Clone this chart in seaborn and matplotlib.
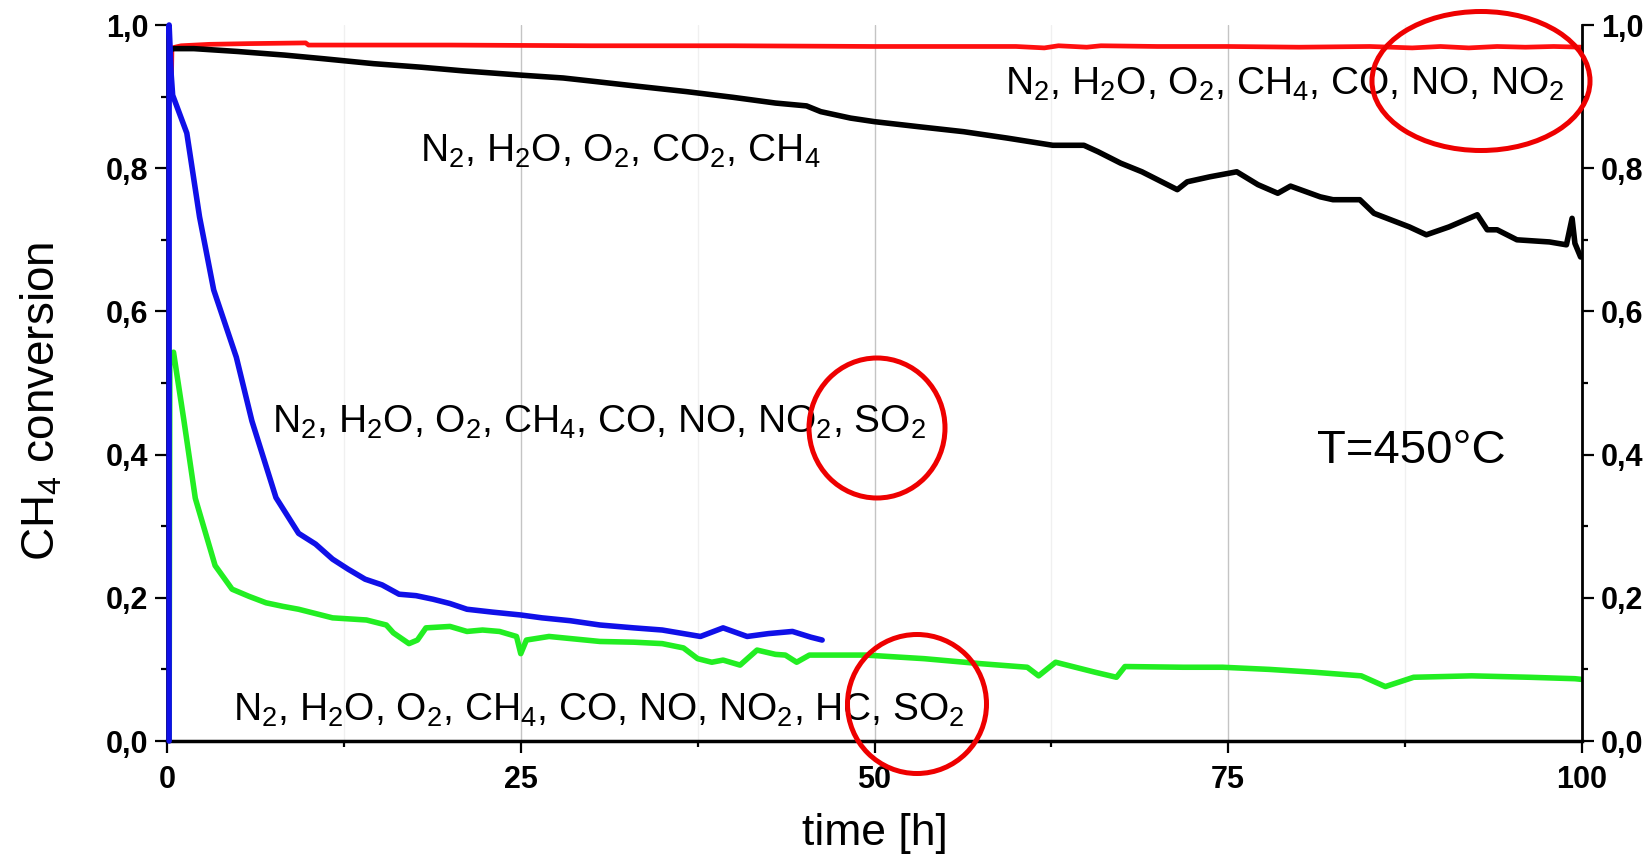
import matplotlib
matplotlib.use("Agg")
import matplotlib.pyplot as plt
from matplotlib.patches import Ellipse
from matplotlib.ticker import MultipleLocator, FuncFormatter
import seaborn as sns
import pandas as pd

# ---------------- data ----------------
black_t = [0.3, 0.5, 1.9, 5, 8.3, 11, 14.6, 18, 20.9, 25, 28, 30.3, 33, 36.7, 40, 43, 45.2, 46.2,
           48.3, 50, 53.1, 56.3, 59.4, 62.6, 64.8, 65.8, 67.4, 68.9, 70.5, 71.4, 72.1, 73.7,
           75.6, 77.1, 78.5, 79.4, 81.5, 82.4, 84.3, 85.3, 87.8, 89.0, 90.6, 92.6, 93.3,
           94.0, 95.4, 97.7, 98.9, 99.3, 99.5, 99.9]
black_y = [0.966, 0.967, 0.967, 0.963, 0.958, 0.953, 0.946, 0.941, 0.936, 0.930, 0.926, 0.921,
           0.915, 0.907, 0.899, 0.891, 0.887, 0.879, 0.870, 0.865, 0.858, 0.851, 0.842, 0.832,
           0.832, 0.823, 0.807, 0.795, 0.779, 0.770, 0.781, 0.788, 0.795, 0.777, 0.765, 0.775,
           0.760, 0.756, 0.756, 0.737, 0.718, 0.707, 0.718, 0.735, 0.714, 0.714, 0.700, 0.697,
           0.693, 0.730, 0.695, 0.676]

red_t = [0.3, 0.35, 1, 3, 5.8, 9.8, 10, 20, 30, 40, 50, 55, 60, 62, 63, 65, 66, 70, 75,
         80, 85, 88, 90, 92, 94, 96, 98, 100]
red_y = [0.905, 0.968, 0.971, 0.973, 0.974, 0.975, 0.972, 0.972, 0.971, 0.971, 0.970, 0.970,
         0.970, 0.968, 0.971, 0.969, 0.971, 0.970, 0.970, 0.969, 0.970, 0.968, 0.970, 0.968,
         0.970, 0.969, 0.970, 0.969]

blue_t = [0.15, 0.15, 0.3, 0.4, 1.4, 2.3, 3.3, 4.9, 6.0, 7.7, 9.3, 10.5, 11.7, 12.8, 14.0,
          15.2, 16.4, 17.6, 18.8, 20.0, 21.2, 23.0, 25.0, 26.5, 28.5, 30.6, 33.0, 35.0,
          37.7, 39.3, 41.0, 42.5, 44.2, 45.5, 46.3]
blue_y = [0.0, 1.0, 0.93, 0.902, 0.849, 0.732, 0.630, 0.536, 0.447, 0.340, 0.290, 0.275,
          0.254, 0.240, 0.226, 0.218, 0.205, 0.203, 0.198, 0.192, 0.184, 0.180, 0.176, 0.172,
          0.168, 0.162, 0.158, 0.155, 0.146, 0.158, 0.146, 0.150, 0.153, 0.145, 0.141]

green_t = [0.15, 0.2, 0.46, 1.2, 2.0, 3.4, 4.6, 5.8, 7.0, 8.2, 9.3, 11.7, 14.1, 15.5, 16.0, 17.1,
           17.7, 18.3, 20.0, 21.2, 22.3, 23.5, 24.7, 25.0, 25.4, 27.0, 30.6, 33.0, 35.0,
           36.5, 37.5, 38.5, 39.3, 40.5, 41.7, 43.0, 43.7, 44.5, 45.4, 49.4, 53.5, 57.5,
           60.8, 61.6, 62.8, 65.6, 67.1, 67.7, 71.8, 74.6, 77.9, 81.1, 84.4, 86.1, 88.1,
           92.2, 96.3, 99.5, 100]
green_y = [0.0, 0.54, 0.543, 0.447, 0.339, 0.245, 0.212, 0.202, 0.193, 0.188, 0.184, 0.172, 0.169,
           0.162, 0.151, 0.136, 0.141, 0.158, 0.160, 0.153, 0.155, 0.153, 0.146, 0.122, 0.141,
           0.146, 0.139, 0.138, 0.136, 0.130, 0.115, 0.110, 0.113, 0.106, 0.127, 0.121, 0.120,
           0.110, 0.120, 0.120, 0.115, 0.108, 0.103, 0.091, 0.110, 0.096, 0.089, 0.104, 0.103,
           0.103, 0.100, 0.096, 0.091, 0.076, 0.089, 0.091, 0.089, 0.087, 0.086]

x_ticks = [0, 25, 50, 75, 100]
y_ticks = [0.0, 0.2, 0.4, 0.6, 0.8, 1.0]

label_A = r"N$_2$, H$_2$O, O$_2$, CO$_2$, CH$_4$"
label_B = r"N$_2$, H$_2$O, O$_2$, CH$_4$, CO, NO, NO$_2$"
label_C = r"N$_2$, H$_2$O, O$_2$, CH$_4$, CO, NO, NO$_2$, SO$_2$"
label_D = r"N$_2$, H$_2$O, O$_2$, CH$_4$, CO, NO, NO$_2$, HC, SO$_2$"
label_T = "T=450°C"

# ---------------- styling ----------------
sns.set_theme(style="white")
plt.rcParams["font.family"] = ["Liberation Sans", "DejaVu Sans"]
plt.rcParams["mathtext.default"] = "regular"
plt.rcParams["text.color"] = "black"
plt.rcParams["axes.labelcolor"] = "black"
plt.rcParams["xtick.color"] = "black"
plt.rcParams["ytick.color"] = "black"

fig = plt.figure(figsize=(16.48, 8.56), dpi=100)
ax = fig.add_axes([167 / 1648, 1 - 741 / 856, 1415 / 1648, 716 / 856])

def frame(t, y):
    return pd.DataFrame({"time": t, "conv": y})

lw = 4.0
sns.lineplot(data=frame(red_t, red_y), x="time", y="conv", sort=False, estimator=None,
             color="#ff1010", lw=3.4, ax=ax)
sns.lineplot(data=frame(black_t, black_y), x="time", y="conv", sort=False, estimator=None,
             color="#000000", lw=lw, ax=ax)
sns.lineplot(data=frame(green_t, green_y), x="time", y="conv", sort=False, estimator=None,
             color="#22ee22", lw=lw, ax=ax)
sns.lineplot(data=frame(blue_t, blue_y), x="time", y="conv", sort=False, estimator=None,
             color="#1010e8", lw=lw, ax=ax, zorder=5)
ax.lines[-1].set_clip_on(False)

ax.set_xlim(0, 100)
ax.set_ylim(0, 1.0)
ax.set_xticks(x_ticks)
ax.set_yticks(y_ticks)
ax.xaxis.set_minor_locator(MultipleLocator(12.5))
ax.yaxis.set_minor_locator(MultipleLocator(0.1))
ax.xaxis.set_major_formatter(FuncFormatter(lambda v, p: f"{v:g}"))
ax.yaxis.set_major_formatter(FuncFormatter(lambda v, p: f"{v:.1f}".replace(".", ",")))

ax.grid(True, axis="x", which="major", color="#c4c4c4", lw=1.0)
ax.grid(True, axis="x", which="minor", color="#f0f0f0", lw=1.0)
ax.grid(False, axis="y")
ax.set_axisbelow(True)

for side in ["left", "bottom", "right"]:
    ax.spines[side].set_visible(True)
    ax.spines[side].set_color("black")
    ax.spines[side].set_linewidth(2.0)
ax.spines["top"].set_visible(False)
ax.spines["bottom"].set_linewidth(2.5)

ax.tick_params(axis="both", which="major", direction="out", length=8.5, width=1.6,
               labelsize=22, pad=5, colors="black")
ax.tick_params(axis="x", which="major", pad=9)
ax.tick_params(axis="both", which="minor", direction="out", length=4.5, width=1.6)
ax.tick_params(axis="y", which="both", left=True, right=True, labelleft=True, labelright=True)
ax.tick_params(axis="x", which="both", bottom=True, top=False)
for t in ax.xaxis.get_major_ticks():
    t.label1.set_fontweight("bold")
for t in ax.yaxis.get_major_ticks():
    t.label1.set_fontweight("bold")
    t.label2.set_fontweight("bold")

ax.set_xlabel("time [h]", fontsize=32, va="baseline")
ax.xaxis.set_label_coords(0.5, (741 - 845) / 716)
ax.set_ylabel(r"CH$_4$ conversion", fontsize=33, va="center")
ax.yaxis.set_label_coords((42 - 167) / 1415, 0.475)

fs = 28
ax.text(17.9, 0.809, label_A, fontsize=fs, va="baseline", ha="left")
ax.text(59.2, 0.902, label_B, fontsize=fs, va="baseline", ha="left")
ax.text(7.4, 0.430, label_C, fontsize=fs, va="baseline", ha="left")
ax.text(4.66, 0.029, label_D, fontsize=fs, va="baseline", ha="left")
ax.text(81.3, 0.388, label_T, fontsize=34, va="baseline", ha="left")

# red highlight ellipses (figure-fraction coordinates, may extend past the axes)
for (cx, cy, w, h) in [(1481, 81, 218, 139), (877, 428, 136, 140), (917, 704, 139, 139)]:
    e = Ellipse((cx / 1648, 1 - cy / 856), w / 1648, h / 856, transform=fig.transFigure,
                fill=False, edgecolor="#ee0000", lw=3.6, zorder=10, clip_on=False)
    fig.patches.append(e)

fig.savefig("out.png", dpi=100)
